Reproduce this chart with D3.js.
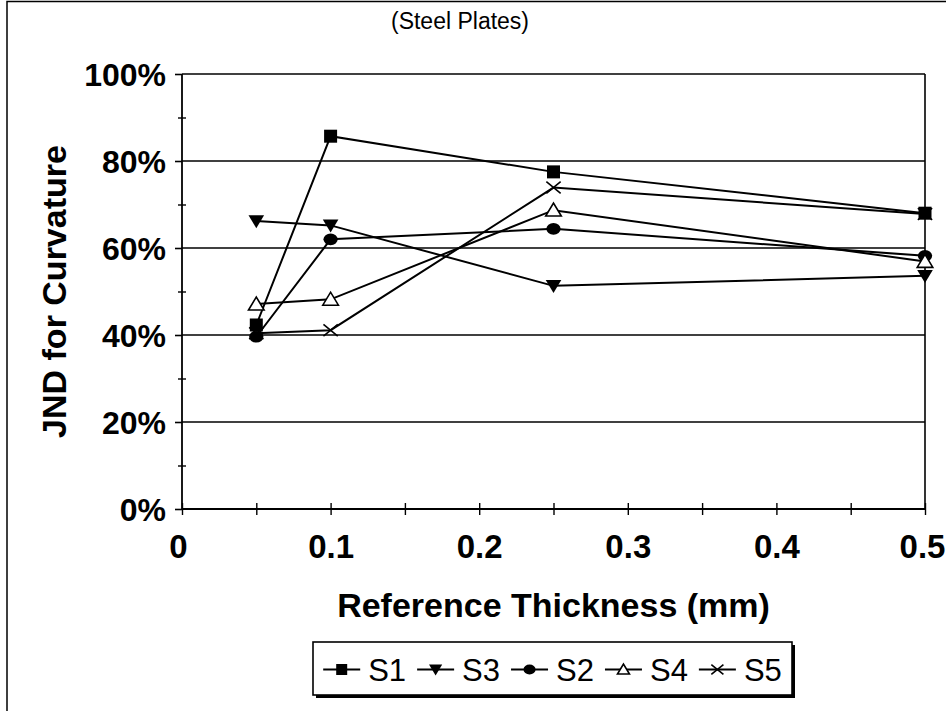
<!DOCTYPE html>
<html>
<head>
<meta charset="utf-8">
<script src="https://cdn.jsdelivr.net/npm/d3@7"></script>
<style>
  html, body { margin: 0; padding: 0; background: #fff; }
  svg { display: block; }
  text { font-family: Arial, "Liberation Sans", Helvetica, sans-serif; fill: #000; }
</style>
</head>
<body>
<svg id="chart" width="946" height="711"></svg>
<script>
// ---- data ----
const thickness = [0.05, 0.1, 0.25, 0.5];
const seriesNames = ["S1", "S3", "S2", "S4", "S5"];
const S1 = [0.423, 0.857, 0.775, 0.680];
const S3 = [0.662, 0.652, 0.513, 0.536];
const S2 = [0.396, 0.620, 0.644, 0.582];
const S4 = [0.471, 0.482, 0.687, 0.569];
const S5 = [0.404, 0.411, 0.739, 0.678];
const markers = ["square", "triangleDown", "circle", "triangleUp", "cross"];
const yTicks = [0, 0.2, 0.4, 0.6, 0.8, 1.0];
const yMinorTicks = [0.1, 0.3, 0.5, 0.7, 0.9];
const xTicks = [0, 0.1, 0.2, 0.3, 0.4, 0.5];
const xMinorTicks = [0.05, 0.15, 0.25, 0.35, 0.45];
const title = "(Steel Plates)";
const xTitle = "Reference Thickness (mm)";
const yTitle = "JND for Curvature";

const seriesValues = [S1, S3, S2, S4, S5];
const series = seriesNames.map((n, i) => ({
  name: n, marker: markers[i],
  points: thickness.map((t, j) => ({ x: t, y: seriesValues[i][j] }))
}));

const svg = d3.select("#chart");
const L = 182, R = 925, T = 74, B = 509;
const x = d3.scaleLinear().domain([0, 0.5]).range([L, R]);
const y = d3.scaleLinear().domain([0, 1]).range([B, T]);
const FONT = "Arial, 'Liberation Sans', Helvetica, sans-serif";

// outer frame (only left and top visible)
svg.append("rect").attr("x", 7).attr("y", 1.5).attr("width", 1000).attr("height", 800)
  .attr("fill", "none").attr("stroke", "#000").attr("stroke-width", 1.5);

// gridlines
svg.append("g").selectAll("line").data(yTicks.filter(d => d > 0)).join("line")
  .attr("x1", L).attr("x2", R).attr("y1", d => y(d)).attr("y2", d => y(d))
  .attr("stroke", "#000").attr("stroke-width", 1.6);
// right border of plot
svg.append("line").attr("x1", R).attr("x2", R).attr("y1", T).attr("y2", B)
  .attr("stroke", "#000").attr("stroke-width", 1.6);

// y axis
const yAxis = svg.append("g").attr("transform", `translate(${L},0)`)
  .call(d3.axisLeft(y).tickValues(yTicks).tickSize(7).tickPadding(9).tickFormat(d3.format(".0%")));
yAxis.select(".domain").attr("stroke-width", 1.8).attr("d", `M0,${T}V${B}`);
yAxis.selectAll(".tick line").attr("stroke-width", 1.6);
yAxis.selectAll(".tick text").attr("font-size", 32).attr("font-weight", "bold")
  .attr("font-family", FONT).attr("dy", "0.35em");
// y minor ticks (crossing)
const yMinor = svg.append("g").attr("transform", `translate(${L},0)`)
  .call(d3.axisLeft(y).tickValues(yMinorTicks).tickSize(4).tickFormat(""));
yMinor.select(".domain").remove();
yMinor.selectAll(".tick line").attr("x2", -4).attr("x1", 4).attr("stroke-width", 1.4);

// x axis
const xAxis = svg.append("g").attr("transform", `translate(0,${B})`)
  .call(d3.axisBottom(x).tickValues(xTicks).tickSize(6).tickPadding(20).tickFormat(d => d === 0 ? "0" : d3.format(".1f")(d)));
xAxis.select(".domain").attr("stroke-width", 1.8).attr("d", `M${L},0H${R}`);
xAxis.selectAll(".tick line").attr("y1", -6).attr("y2", 6).attr("stroke-width", 1.4);
xAxis.selectAll(".tick text").attr("font-size", 33).attr("font-weight", "bold")
  .attr("font-family", FONT);
xAxis.selectAll(".tick").filter(d => d === 0).select("text").attr("dx", -4);
xAxis.selectAll(".tick").filter(d => d === 0.5).select("text").attr("dx", -3);
const xMinor = svg.append("g").attr("transform", `translate(0,${B})`)
  .call(d3.axisBottom(x).tickValues(xMinorTicks).tickSize(6).tickFormat(""));
xMinor.select(".domain").remove();
xMinor.selectAll(".tick line").attr("y1", -6).attr("y2", 6).attr("stroke-width", 1.4);

// titles
svg.append("text").attr("x", 460).attr("y", 29).attr("text-anchor", "middle")
  .attr("font-size", 23).text(title);
svg.append("text").attr("x", (L + R) / 2).attr("y", 617).attr("text-anchor", "middle")
  .attr("font-size", 34).attr("font-weight", "bold").text(xTitle);
svg.append("text").attr("transform", `translate(66,${(T + B) / 2}) rotate(-90)`)
  .attr("text-anchor", "middle").attr("font-size", 34).attr("font-weight", "bold").text(yTitle);

// marker drawing
function drawMarker(g, type, size) {
  const s = size;
  if (type === "square") {
    g.append("rect").attr("x", -s / 2).attr("y", -s / 2).attr("width", s).attr("height", s).attr("fill", "#000");
  } else if (type === "triangleDown") {
    g.append("path").attr("d", `M${-s * 0.6},${-s * 0.45}L${s * 0.6},${-s * 0.45}L0,${s * 0.55}Z`).attr("fill", "#000");
  } else if (type === "triangleUp") {
    g.append("path").attr("d", `M${-s * 0.6},${s * 0.45}L${s * 0.6},${s * 0.45}L0,${-s * 0.55}Z`)
      .attr("fill", "#fff").attr("stroke", "#000").attr("stroke-width", 1.6);
  } else if (type === "circle") {
    g.append("ellipse").attr("rx", s * 0.55).attr("ry", s * 0.45).attr("fill", "#000");
  } else if (type === "cross") {
    g.append("path").attr("d", `M${-s * 0.55},${-s * 0.45}L${s * 0.55},${s * 0.45}M${-s * 0.55},${s * 0.45}L${s * 0.55},${-s * 0.45}`)
      .attr("stroke", "#000").attr("stroke-width", 1.6).attr("fill", "none");
  }
}

// series
const line = d3.line().x(d => x(d.x)).y(d => y(d.y));
const sg = svg.append("g");
series.forEach(s => {
  sg.append("path").datum(s.points).attr("d", line).attr("fill", "none")
    .attr("stroke", "#000").attr("stroke-width", 2);
});
series.forEach(s => {
  s.points.forEach(p => {
    const g = sg.append("g").attr("transform", `translate(${x(p.x)},${y(p.y)})`);
    drawMarker(g, s.marker, 13);
  });
});

// legend
const lg = svg.append("g");
const lx = 313, ly = 642, lw = 479, lh = 53;
lg.append("rect").attr("x", lx + 3).attr("y", ly + 3).attr("width", lw).attr("height", lh).attr("fill", "#000");
lg.append("rect").attr("x", lx).attr("y", ly).attr("width", lw).attr("height", lh)
  .attr("fill", "#fff").attr("stroke", "#000").attr("stroke-width", 1.6);
const lineW = 37, gapLT = 8, gapTL = 11;
const items = series.map(s => {
  const t = lg.append("text").attr("font-size", 31).attr("y", ly + lh / 2 + 12).text(s.name);
  return { s, t, w: t.node().getComputedTextLength() };
});
const total = items.reduce((a, it) => a + lineW + gapLT + it.w, 0) + gapTL * (items.length - 1);
let cx = lx + (lw - total) / 2;
const cy = ly + lh / 2 + 1;
items.forEach(it => {
  lg.append("line").attr("x1", cx).attr("x2", cx + lineW).attr("y1", cy).attr("y2", cy)
    .attr("stroke", "#000").attr("stroke-width", 1.8);
  const mg = lg.append("g").attr("transform", `translate(${cx + lineW / 2},${cy})`);
  drawMarker(mg, it.s.marker, it.s.marker === "triangleUp" ? 10 : 11);
  it.t.attr("x", cx + lineW + gapLT);
  cx += lineW + gapLT + it.w + gapTL;
});
</script>
</body>
</html>
